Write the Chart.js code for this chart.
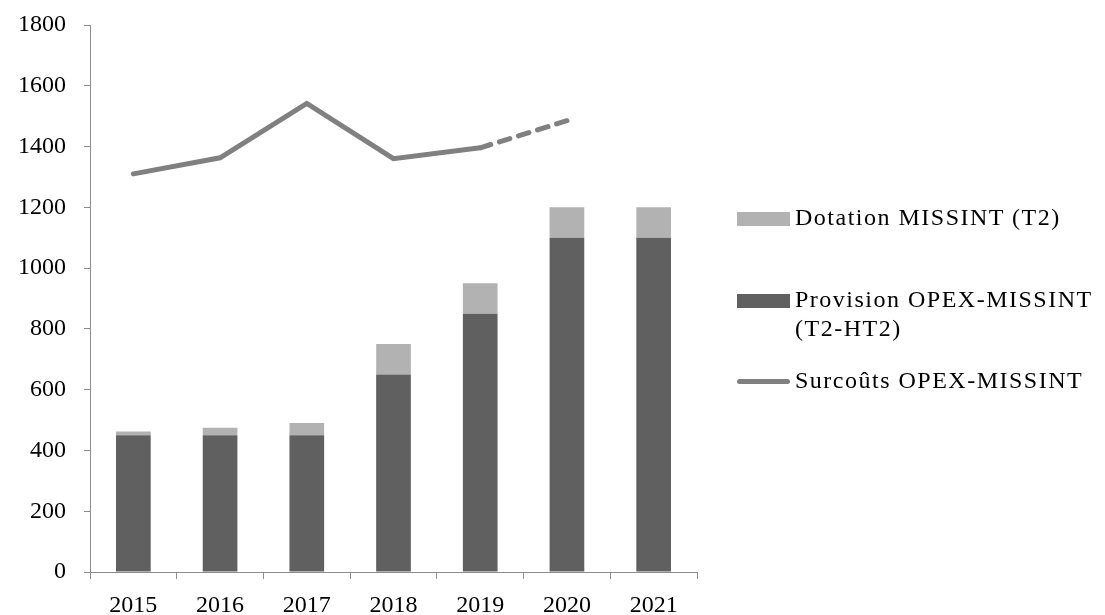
<!DOCTYPE html>
<html>
<head>
<meta charset="utf-8">
<script src="https://cdn.jsdelivr.net/npm/chart.js@4/dist/chart.umd.min.js"></script>
<style>
body { margin: 0; background: #fff; }
#wrap { position: relative; width: 1105px; height: 615px; }
#legend { position: absolute; left: 737px; top: 0; font-family: "Liberation Serif", serif; font-size: 24px; letter-spacing: 1.5px; color: #000; }
.item { position: absolute; left: 0; display: flex; align-items: flex-start; white-space: nowrap; line-height: 29px; }
.sw { width: 53px; margin-right: 5px; flex: none; }
</style>
</head>
<body>
<div id="wrap">
<canvas id="chart" width="1105" height="615"></canvas>
<div id="legend"></div>
</div>
<script>
var years = ['2015', '2016', '2017', '2018', '2019', '2020', '2021'];
var provision = [450, 450, 450, 650, 850, 1100, 1100];
var dotation = [12, 25, 40, 100, 100, 100, 100];
var surcouts = [1310, 1363, 1542, 1360, 1396, 1485, null];
var yTicks = [0, 200, 400, 600, 800, 1000, 1200, 1400, 1600, 1800];

var font = { family: '"Liberation Serif", serif', size: 24 };

var ctx = document.getElementById('chart').getContext('2d');
var myChart = new Chart(ctx, {
    type: 'bar',
    data: {
        labels: years,
        datasets: [{
            label: 'Surcoûts OPEX-MISSINT',
            type: 'line',
            data: surcouts,
            stack: 'line',
            borderColor: '#808080',
            borderWidth: 5,
            pointRadius: 0,
            borderCapStyle: 'round',
            fill: false,
            tension: 0,
            order: 0,
            segment: {
                borderDash: function(c) { return c.p1DataIndex === 5 ? [11, 9] : undefined; }
            }
        }, {
            label: 'Provision OPEX-MISSINT|(T2-HT2)',
            data: provision,
            stack: 'bars',
            backgroundColor: '#606060',
            barPercentage: 0.4,
            categoryPercentage: 1,
            order: 1
        }, {
            label: 'Dotation MISSINT (T2)',
            data: dotation,
            stack: 'bars',
            backgroundColor: '#b2b2b2',
            barPercentage: 0.4,
            categoryPercentage: 1,
            order: 2
        }]
    },
    options: {
        responsive: false,
        animation: false,
        layout: { padding: { top: 25, right: 408, left: 0, bottom: 0 } },
        plugins: { legend: { display: false }, tooltip: { enabled: false } },
        scales: {
            x: {
                stacked: true,
                afterFit: function(s) { s.height = 43; s.paddingLeft = 0; s.paddingRight = 0; },
                border: { color: '#8c8c8c', width: 1 },
                grid: { drawOnChartArea: false, tickLength: 7, color: '#8c8c8c', offset: true },
                ticks: { font: font, color: '#000', padding: 12 }
            },
            y: {
                stacked: true,
                min: 0,
                max: 1800,
                afterFit: function(s) { s.width = 90; s.paddingTop = 0; s.paddingBottom = 0; },
                afterBuildTicks: function(s) { s.ticks = yTicks.map(function(v) { return { value: v }; }); },
                border: { color: '#8c8c8c', width: 1 },
                grid: { drawOnChartArea: false, tickLength: 6, color: '#8c8c8c' },
                ticks: {
                    font: font, color: '#000', padding: 18,
                    callback: function(v) { return String(v); }
                }
            }
        }
    }
});

// legend on the right, built from the datasets
var legend = document.getElementById('legend');
var legendRows = [
    { ds: 2, top: 203, kind: 'box' },
    { ds: 1, top: 285, kind: 'box' },
    { ds: 0, top: 366, kind: 'line' }
];
legendRows.forEach(function(r) {
    var d = myChart.data.datasets[r.ds];
    var div = document.createElement('div');
    div.className = 'item';
    div.style.top = r.top + 'px';
    var sw = document.createElement('div');
    sw.className = 'sw';
    if (r.kind === 'box') {
        sw.style.height = '14px';
        sw.style.marginTop = '9px';
        sw.style.background = d.backgroundColor;
    } else {
        sw.style.height = '5px';
        sw.style.marginTop = '13px';
        sw.style.borderRadius = '3px';
        sw.style.background = d.borderColor;
    }
    var txt = document.createElement('div');
    txt.innerHTML = d.label.split('|').join('<br>');
    div.appendChild(sw);
    div.appendChild(txt);
    legend.appendChild(div);
});
</script>
</body>
</html>
